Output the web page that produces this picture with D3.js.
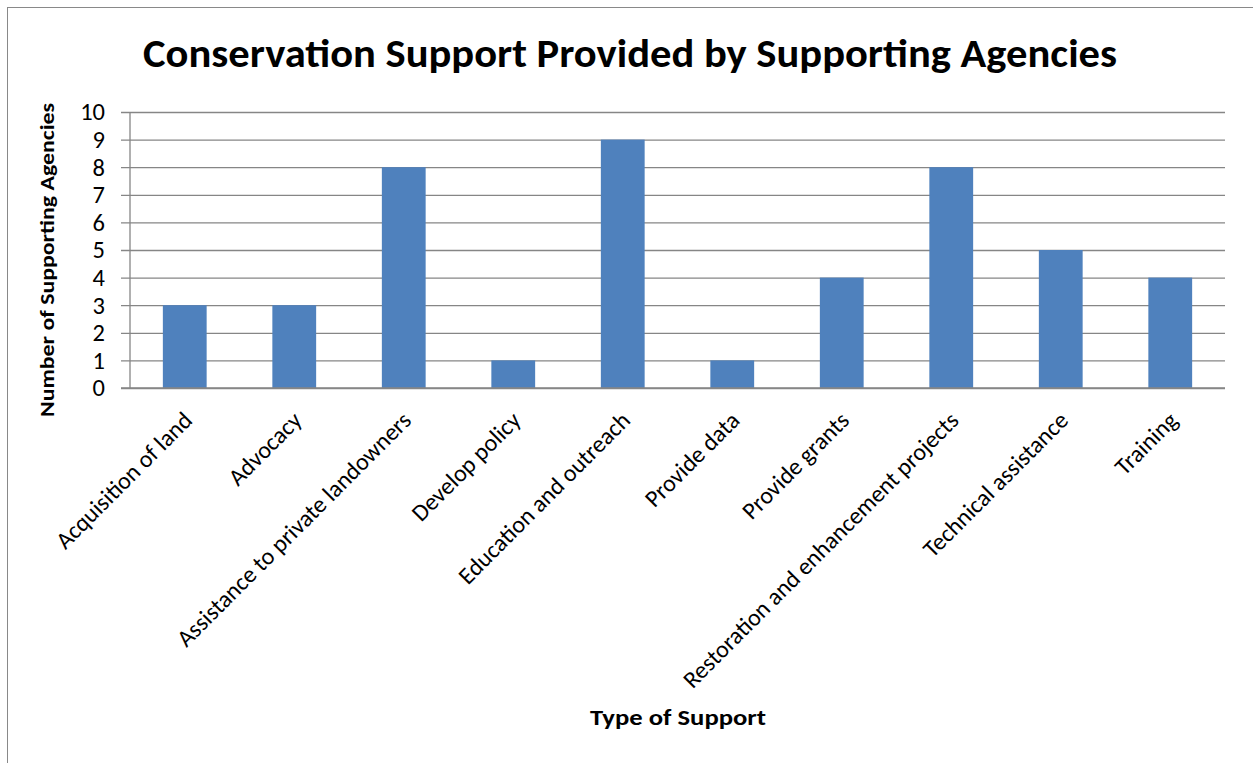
<!DOCTYPE html>
<html>
<head>
<meta charset="utf-8">
<script src="https://cdn.jsdelivr.net/npm/d3@7"></script>
<style>
  body { margin: 0; background: #fff; }
  text { font-family: Calibri, Carlito, Lato, "Open Sans", sans-serif; }
</style>
</head>
<body>
<div id="chart"></div>
<script>
// Chart data
var categories = [
    "Acquisition of land",
    "Advocacy",
    "Assistance to private landowners",
    "Develop policy",
    "Education and outreach",
    "Provide data",
    "Provide grants",
    "Restoration and enhancement projects",
    "Technical assistance",
    "Training"
];
var agencies = [3, 3, 8, 1, 9, 1, 4, 8, 5, 4];
var yTicks = [0, 1, 2, 3, 4, 5, 6, 7, 8, 9, 10];

var width = 1253;
var height = 763;

var margin = {top: 112, left: 130, right: 28, bottom: 375};

const svg = d3.select("#chart")
    .append("svg")
    .attr("width", width)
    .attr("height", height);

// Outer frame
svg.append("rect")
    .attr("x", 7.5)
    .attr("y", 7.5)
    .attr("width", width)
    .attr("height", height)
    .attr("fill", "none")
    .attr("stroke", "#898989")
    .attr("stroke-width", 1);

var x = d3.scaleBand()
    .domain(categories)
    .range([margin.left, width - margin.right]);

var y = d3.scaleLinear()
    .domain([0, 10])
    .range([height - margin.bottom, margin.top]);

// Gridlines with tick marks to the left
svg.append("g")
    .attr("transform", `translate(${margin.left},0)`)
    .call(d3.axisLeft(y)
        .tickValues(yTicks)
        .tickSize(-(width - margin.right - margin.left))
        .tickFormat(""))
    .call(g => g.select(".domain").remove())
    .call(g => g.selectAll("line")
        .attr("stroke", "#868686")
        .attr("x1", -9)
        .attr("stroke-width", 1.3));

// Y axis line
svg.append("line")
    .attr("x1", margin.left)
    .attr("x2", margin.left)
    .attr("y1", y(10))
    .attr("y2", y(0))
    .attr("stroke", "#868686")
    .attr("stroke-width", 1.3);

// Y tick labels
svg.append("g")
    .selectAll("text")
    .data(yTicks)
    .join("text")
      .attr("x", 105)
      .attr("y", d => y(d))
      .attr("dy", "0.34em")
      .attr("text-anchor", "end")
      .attr("font-size", 24.5)
      .attr("fill", "#000")
      .text(d => d);

// Bars
var barW = x.bandwidth() * 0.4;
svg.append("g")
    .selectAll("rect")
    .data(agencies)
    .join("rect")
      .attr("x", (d, i) => x(categories[i]) + (x.bandwidth() - barW) / 2)
      .attr("y", d => y(d))
      .attr("width", barW)
      .attr("height", d => y(0) - y(d))
      .attr("fill", "#4F81BD");

// Zero line over the bars
svg.append("line")
    .attr("x1", margin.left - 9)
    .attr("x2", width - margin.right)
    .attr("y1", y(0))
    .attr("y2", y(0))
    .attr("stroke", "#868686")
    .attr("stroke-width", 1.3);

// Category labels rotated -45
svg.append("g")
    .selectAll("text")
    .data(categories)
    .join("text")
      .attr("transform", d => `translate(${x(d) + x.bandwidth() / 2 - 3},${y(0) + 22}) rotate(-45)`)
      .attr("text-anchor", "end")
      .attr("dy", "0.7em")
      .attr("font-size", 24)
      .attr("fill", "#000")
      .text(d => d);

// Title
svg.append("text")
    .attr("x", 630)
    .attr("y", 67)
    .attr("text-anchor", "middle")
    .attr("font-size", 41)
    .attr("font-weight", "bold")
    .attr("textLength", 974)
    .attr("lengthAdjust", "spacingAndGlyphs")
    .text("Conservation Support Provided by Supporting Agencies");

// Axis titles
svg.append("text")
    .attr("transform", `translate(54,260) rotate(-90)`)
    .attr("text-anchor", "middle")
    .attr("font-size", 20.5)
    .attr("font-weight", "bold")
    .attr("textLength", 314)
    .attr("lengthAdjust", "spacingAndGlyphs")
    .text("Number of Supporting Agencies");

svg.append("text")
    .attr("x", 678)
    .attr("y", 725)
    .attr("text-anchor", "middle")
    .attr("font-size", 23)
    .attr("font-weight", "bold")
    .attr("textLength", 176)
    .attr("lengthAdjust", "spacingAndGlyphs")
    .text("Type of Support");
</script>
</body>
</html>
